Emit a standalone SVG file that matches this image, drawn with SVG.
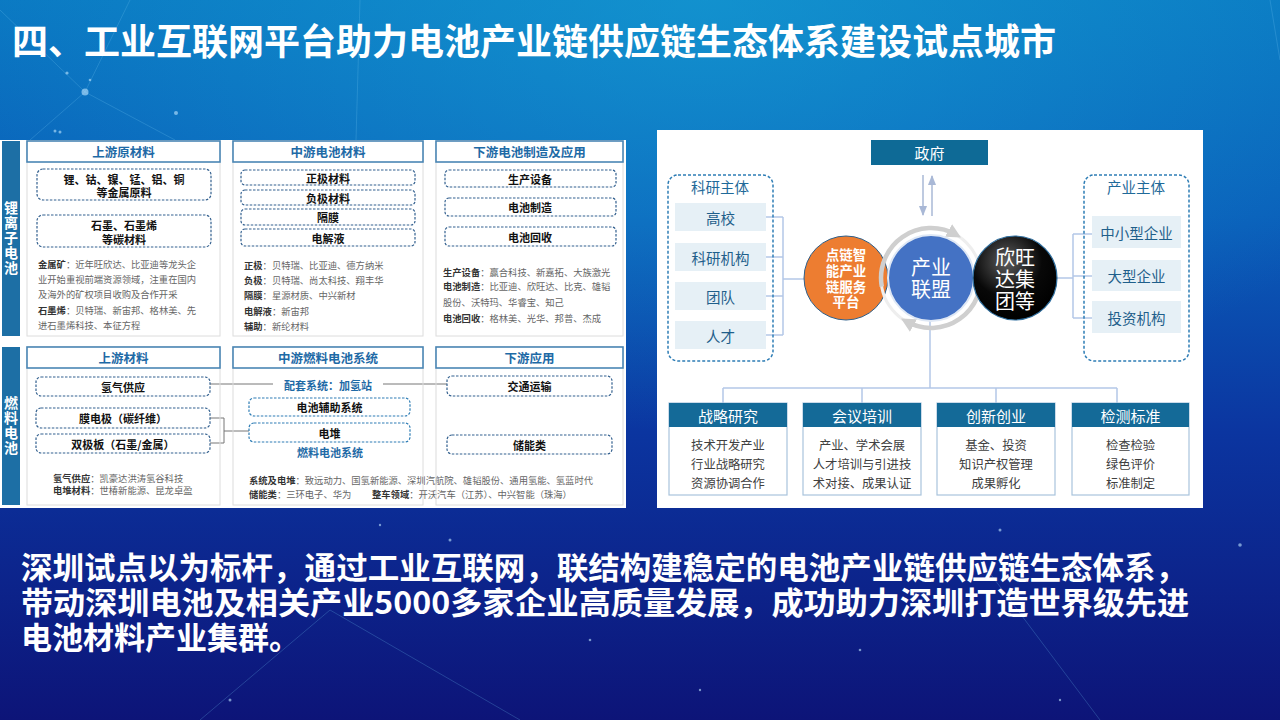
<svg xmlns="http://www.w3.org/2000/svg" width="1280" height="720" viewBox="0 0 1280 720">
<defs>
<linearGradient id="bg" x1="0" y1="0" x2="0" y2="1">
<stop offset="0" stop-color="#0a78c2"/>
<stop offset="0.3" stop-color="#0a5fba"/>
<stop offset="0.6" stop-color="#0b35a0"/>
<stop offset="1" stop-color="#0d1478"/>
</linearGradient>
<radialGradient id="glow" cx="0.55" cy="0" r="0.6">
<stop offset="0" stop-color="#19a6d8" stop-opacity="0.55"/>
<stop offset="1" stop-color="#19a6d8" stop-opacity="0"/>
</radialGradient>
<radialGradient id="blk" cx="0.4" cy="0.3" r="0.7">
<stop offset="0" stop-color="#5c5c5c"/>
<stop offset="0.6" stop-color="#080808"/>
<stop offset="1" stop-color="#000"/>
</radialGradient>
<marker id="arr" viewBox="0 0 10 10" refX="9" refY="5" markerWidth="7" markerHeight="7" orient="auto">
<path d="M0,1 L10,5 L0,9 Z" fill="#a9b8d6"/>
</marker>
<marker id="ring" viewBox="0 0 10 10" refX="6" refY="5" markerWidth="3.2" markerHeight="3.2" orient="auto">
<path d="M0,0 L10,5 L0,10 Z" fill="#cfcfcf"/>
</marker>
<style>
text{font-family:"Noto Sans CJK SC","Noto Sans",sans-serif}
.title{font-size:36px;font-weight:700;fill:#fff}
.body{font-size:31px;font-weight:700;fill:#fff}
.bar{fill:#1d6fa5}
.vtxt{font-size:14px;font-weight:700;fill:#fff;text-anchor:middle;writing-mode:vertical-rl;letter-spacing:1px}
.col{fill:none;stroke:#dcdcdc;stroke-width:1}
.hbox{fill:#fff;stroke:#4a86b4;stroke-width:1.6}
.htxt{font-size:12.5px;font-weight:700;fill:#1e6aa6;text-anchor:middle;dominant-baseline:central}
.dash{fill:#fff;stroke:#33608f;stroke-width:1.2;stroke-dasharray:2.5 1.5}
.dtxt{font-size:11px;font-weight:700;fill:#111;text-anchor:middle;dominant-baseline:central}
.btxt{font-size:11px;font-weight:700;fill:#1e6aa6;text-anchor:middle;dominant-baseline:central}
.desc{font-size:9.3px;fill:#666;dominant-baseline:central}
.lbl{font-weight:700;fill:#333}
.ln{fill:none;stroke:#777;stroke-width:1}
.rl{fill:none;stroke:#b4c7e7;stroke-width:1.5}
.grp{fill:none;stroke:#2e7db5;stroke-width:1.5;stroke-dasharray:3 2}
.gtitle{font-size:14.5px;fill:#1f6a99;text-anchor:middle;dominant-baseline:central}
.item{fill:#e6f0f6}
.itxt{font-size:14.5px;fill:#1f5f8b;text-anchor:middle;dominant-baseline:central}
.chead{fill:#146a98}
.cbody{fill:#fff;stroke:#a9c4dc;stroke-width:1.2}
.chtxt{font-size:15px;fill:#fff;text-anchor:middle;dominant-baseline:central}
.cbtxt{font-size:12.3px;fill:#404040;text-anchor:middle;dominant-baseline:central}
.ctxt{font-size:20px;fill:#fff;text-anchor:middle;dominant-baseline:central}
.otxt{font-size:13.5px;font-weight:700;fill:#fff;text-anchor:middle;dominant-baseline:central}
</style>
</defs>

<g id="background">
<rect width="1280" height="720" fill="url(#bg)"/>
<rect width="1280" height="720" fill="url(#glow)"/>
<g stroke="#6fc3ee" stroke-opacity="0.25" stroke-width="1" fill="none">
<path d="M0,10 L85,92 L130,0"/>
<path d="M30,140 L85,92 L175,140"/>
<path d="M360,0 L356,140"/>
<path d="M1270,0 L1280,60"/>
<path d="M980,560 L1100,720"/>
<path d="M200,720 L330,610 L520,720"/>
</g>
<g fill="#bfe6ff" fill-opacity="0.6">
<circle cx="85" cy="92" r="3.5"/>
<circle cx="67" cy="73" r="1.6"/>
<circle cx="90" cy="80" r="1.3"/>
<circle cx="176" cy="113" r="2"/>
<circle cx="55" cy="131" r="1.5"/>
<circle cx="60" cy="132" r="1.5"/>
<circle cx="450" cy="540" r="1.5"/>
<circle cx="380" cy="525" r="1.2"/>
<circle cx="1000" cy="530" r="1.5"/>
<circle cx="1240" cy="545" r="1.8"/>
<circle cx="1180" cy="595" r="1.3"/>
<circle cx="590" cy="640" r="1.3"/>
<circle cx="860" cy="650" r="1.3"/>
<circle cx="230" cy="700" r="1.5"/>
<circle cx="1060" cy="700" r="1.2"/>
<circle cx="700" cy="690" r="1.2"/>
</g>
</g>

<g id="title">
<text class="title" x="12" y="55">四、工业互联网平台助力电池产业链供应链生态体系建设试点城市</text>
</g>

<g id="left-panel">
<rect x="0" y="140" width="626" height="368" fill="#fff"/>

<g id="li-ion">
<rect class="bar" x="2" y="141" width="18" height="195"/>
<text class="vtxt" x="11" y="238">锂离子电池</text>

<g id="li-up">
<rect class="col" x="27" y="141" width="193" height="195"/>
<rect class="hbox" x="27" y="141" width="193" height="21"/>
<text class="htxt" x="123.5" y="151.5">上游原材料</text>
<rect class="dash" x="37" y="169" width="174" height="31" rx="6"/>
<text class="dtxt"><tspan x="124" y="178.5">锂、钴、镍、锰、铝、铜</tspan><tspan x="124" y="192">等金属原料</tspan></text>
<rect class="dash" x="37" y="215" width="174" height="32" rx="6"/>
<text class="dtxt"><tspan x="124" y="225">石墨、石墨烯</tspan><tspan x="124" y="239">等碳材料</tspan></text>
<text class="desc"><tspan x="38" y="264"><tspan class="lbl">金属矿</tspan>：近年旺欣达、比亚迪等龙头企</tspan><tspan x="38" y="279">业开始重视前端资源领域，注重在国内</tspan><tspan x="38" y="294">及海外的矿权项目收购及合作开采</tspan><tspan x="38" y="310"><tspan class="lbl">石墨烯</tspan>：贝特瑞、新宙邦、格林美、先</tspan><tspan x="38" y="325">进石墨烯科技、本征方程</tspan></text>
</g>

<g id="li-mid">
<rect class="col" x="233" y="141" width="190" height="195"/>
<rect class="hbox" x="233" y="141" width="190" height="21"/>
<text class="htxt" x="328" y="151.5">中游电池材料</text>
<rect class="dash" x="241" y="170" width="174" height="15" rx="4"/>
<text class="dtxt" x="328" y="177.5">正极材料</text>
<rect class="dash" x="241" y="190" width="174" height="15" rx="4"/>
<text class="dtxt" x="328" y="197.5">负极材料</text>
<rect class="dash" x="241" y="209" width="174" height="16" rx="4"/>
<text class="dtxt" x="328" y="217">隔膜</text>
<rect class="dash" x="241" y="229" width="174" height="17" rx="4"/>
<text class="dtxt" x="328" y="237.5">电解液</text>
<text class="desc"><tspan x="244" y="265"><tspan class="lbl">正极</tspan>：贝特瑞、比亚迪、德方纳米</tspan><tspan x="244" y="280"><tspan class="lbl">负极</tspan>：贝特瑞、尚太科技、翔丰华</tspan><tspan x="244" y="295"><tspan class="lbl">隔膜</tspan>：星源材质、中兴新材</tspan><tspan x="244" y="311"><tspan class="lbl">电解液</tspan>：新宙邦</tspan><tspan x="244" y="326"><tspan class="lbl">辅助</tspan>：新纶材料</tspan></text>
</g>

<g id="li-down">
<rect class="col" x="436" y="141" width="187" height="195"/>
<rect class="hbox" x="436" y="141" width="187" height="21"/>
<text class="htxt" x="529.5" y="151.5">下游电池制造及应用</text>
<rect class="dash" x="445" y="170" width="171" height="17" rx="4"/>
<text class="dtxt" x="530" y="178.5">生产设备</text>
<rect class="dash" x="445" y="198" width="171" height="18" rx="4"/>
<text class="dtxt" x="530" y="207">电池制造</text>
<rect class="dash" x="445" y="227" width="171" height="19" rx="4"/>
<text class="dtxt" x="530" y="236.5">电池回收</text>
<text class="desc"><tspan x="443" y="272"><tspan class="lbl">生产设备</tspan>：赢合科技、新嘉拓、大族激光</tspan><tspan x="443" y="286"><tspan class="lbl">电池制造</tspan>：比亚迪、欣旺达、比克、雄韬</tspan><tspan x="443" y="302">股份、沃特玛、华睿宝、知己</tspan><tspan x="443" y="318"><tspan class="lbl">电池回收</tspan>：格林美、光华、邦普、杰成</tspan></text>
</g>
</g>

<g id="fuel-cell">
<rect class="bar" x="2" y="347" width="18" height="158"/>
<text class="vtxt" x="11" y="426">燃料电池</text>

<g id="fc-lines">
<path class="ln" d="M210,384 H273"/>
<path class="ln" d="M383,384 H447"/>
<path class="ln" d="M210,418 H224 V443 H210 M224,431 H249"/>
</g>

<g id="fc-up">
<rect class="col" x="27" y="347" width="193" height="158"/>
<rect class="hbox" x="27" y="347" width="193" height="21"/>
<text class="htxt" x="123.5" y="357.5">上游材料</text>
<rect class="dash" x="36" y="377" width="174" height="19" rx="5"/>
<text class="dtxt" x="123" y="386.5">氢气供应</text>
<rect class="dash" x="36" y="408" width="174" height="20" rx="5"/>
<text class="dtxt" x="123" y="418">膜电极（碳纤维）</text>
<rect class="dash" x="36" y="434" width="174" height="19" rx="5"/>
<text class="dtxt" x="123" y="443.5">双极板（石墨/金属）</text>
<text class="desc"><tspan x="53" y="478"><tspan class="lbl">氢气供应</tspan>：凯豪达洪涛氢谷科技</tspan><tspan x="53" y="490"><tspan class="lbl">电堆材料</tspan>：世椿新能源、昆龙卓盈</tspan></text>
</g>

<g id="fc-mid">
<rect class="col" x="233" y="347" width="190" height="158"/>
<rect class="hbox" x="233" y="347" width="190" height="21"/>
<text class="htxt" x="328" y="357.5">中游燃料电池系统</text>
<text class="btxt" x="328" y="385">配套系统：加氢站</text>
<rect class="dash" x="249" y="398" width="161" height="18" rx="5" style="stroke:#2e7db5"/>
<text class="dtxt" x="329.5" y="407">电池辅助系统</text>
<rect class="dash" x="249" y="423" width="161" height="19" rx="5" style="stroke:#2e7db5"/>
<text class="dtxt" x="329.5" y="432.5">电堆</text>
<text class="btxt" x="330" y="452">燃料电池系统</text>
<text class="desc"><tspan x="249" y="480"><tspan class="lbl">系统及电堆</tspan>：致远动力、国氢新能源、深圳汽航院、雄韬股份、通用氢能、氢蓝时代</tspan><tspan x="249" y="494"><tspan class="lbl">储能类</tspan>：三环电子、华为</tspan><tspan x="372" y="494"><tspan class="lbl">整车领域</tspan>：开沃汽车（江苏）、中兴智能（珠海）</tspan></text>
</g>

<g id="fc-down">
<rect class="col" x="436" y="347" width="187" height="158"/>
<rect class="hbox" x="436" y="347" width="187" height="21"/>
<text class="htxt" x="529.5" y="357.5">下游应用</text>
<rect class="dash" x="447" y="376" width="165" height="20" rx="5"/>
<text class="dtxt" x="529.5" y="386">交通运输</text>
<rect class="dash" x="447" y="435" width="165" height="19" rx="5"/>
<text class="dtxt" x="529.5" y="444.5">储能类</text>
</g>
</g>
</g>

<g id="right-panel">
<rect x="657" y="130" width="546" height="378" fill="#fff"/>

<g id="connectors">
<path class="rl" d="M766,217 H783 M766,257 H783 M766,296 H783 M766,335 H783 M783,217 V335 M783,279 H805"/>
<path class="rl" d="M1057,278 H1073 M1073,234 V318 M1073,234 H1092 M1073,276 H1092 M1073,318 H1092"/>
<path class="rl" d="M930,320 V388 M723,388 H1117 M723,388 V403 M862,388 V403 M996,388 V403 M1117,388 V403"/>
<path d="M923,175 V215" stroke="#a9b8d6" stroke-width="1.5" marker-end="url(#arr)"/>
<path d="M932,216 V176" stroke="#a9b8d6" stroke-width="1.5" marker-end="url(#arr)"/>
</g>

<g id="gov">
<rect x="871" y="140" width="117" height="25" fill="#0e6a96"/>
<text class="chtxt" x="929.5" y="152.5">政府</text>
</g>

<g id="research">
<rect class="grp" x="668" y="175" width="105" height="186" rx="10"/>
<text class="gtitle" x="720" y="186">科研主体</text>
<rect class="item" x="675" y="203" width="91" height="28"/>
<text class="itxt" x="720.5" y="217">高校</text>
<rect class="item" x="675" y="243" width="91" height="28"/>
<text class="itxt" x="720.5" y="257">科研机构</text>
<rect class="item" x="675" y="282" width="91" height="28"/>
<text class="itxt" x="720.5" y="296">团队</text>
<rect class="item" x="675" y="321" width="91" height="28"/>
<text class="itxt" x="720.5" y="335">人才</text>
</g>

<g id="industry">
<rect class="grp" x="1084" y="175" width="105" height="186" rx="10"/>
<text class="gtitle" x="1136" y="186">产业主体</text>
<rect class="item" x="1092" y="216" width="89" height="32"/>
<text class="itxt" x="1136.5" y="232">中小型企业</text>
<rect class="item" x="1092" y="260" width="89" height="31"/>
<text class="itxt" x="1136.5" y="275">大型企业</text>
<rect class="item" x="1092" y="301" width="89" height="32"/>
<text class="itxt" x="1136.5" y="317">投资机构</text>
</g>

<g id="platform">
<circle cx="846" cy="278" r="42" fill="#ed7d31" stroke="#2e5f8a" stroke-width="1"/>
<text class="otxt"><tspan x="846" y="254">点链智</tspan><tspan x="846" y="270">能产业</tspan><tspan x="846" y="285.5">链服务</tspan><tspan x="846" y="301">平台</tspan></text>
</g>

<g id="alliance">
<circle cx="931" cy="278" r="50" fill="none" stroke="#eeeeee" stroke-width="3"/>
<path d="M881.8,286.7 A50,50 0 0 1 956,234.7" fill="none" stroke="#cfcfcf" stroke-width="4.5" marker-end="url(#ring)"/>
<path d="M980.2,269.3 A50,50 0 0 1 906,321.3" fill="none" stroke="#cfcfcf" stroke-width="4.5" marker-end="url(#ring)"/>
<circle cx="931" cy="278" r="43" fill="#4472c4" stroke="#dfe8f5" stroke-width="2"/>
<text class="ctxt"><tspan x="931" y="266">产业</tspan><tspan x="931" y="288">联盟</tspan></text>
</g>

<g id="xwd">
<circle cx="1015" cy="278" r="42" fill="url(#blk)" stroke="#2f6f9f" stroke-width="1.2"/>
<text class="ctxt"><tspan x="1015" y="256">欣旺</tspan><tspan x="1015" y="278">达集</tspan><tspan x="1015" y="300">团等</tspan></text>
</g>

<g id="strategy">
<rect class="cbody" x="669" y="403" width="118" height="92"/>
<rect class="chead" x="669" y="403" width="118" height="24"/>
<text class="chtxt" x="728" y="415">战略研究</text>
<text class="cbtxt"><tspan x="728" y="445">技术开发产业</tspan><tspan x="728" y="464">行业战略研究</tspan><tspan x="728" y="483">资源协调合作</tspan></text>
</g>
<g id="meeting">
<rect class="cbody" x="803" y="403" width="118" height="92"/>
<rect class="chead" x="803" y="403" width="118" height="24"/>
<text class="chtxt" x="862" y="415">会议培训</text>
<text class="cbtxt"><tspan x="862" y="445">产业、学术会展</tspan><tspan x="862" y="464">人才培训与引进技</tspan><tspan x="862" y="483">术对接、成果认证</tspan></text>
</g>
<g id="innovation">
<rect class="cbody" x="937" y="403" width="118" height="92"/>
<rect class="chead" x="937" y="403" width="118" height="24"/>
<text class="chtxt" x="996" y="415">创新创业</text>
<text class="cbtxt"><tspan x="996" y="445">基金、投资</tspan><tspan x="996" y="464">知识产权管理</tspan><tspan x="996" y="483">成果孵化</tspan></text>
</g>
<g id="testing">
<rect class="cbody" x="1072" y="403" width="117" height="92"/>
<rect class="chead" x="1072" y="403" width="117" height="24"/>
<text class="chtxt" x="1130.5" y="415">检测标准</text>
<text class="cbtxt"><tspan x="1130.5" y="445">检查检验</tspan><tspan x="1130.5" y="464">绿色评价</tspan><tspan x="1130.5" y="483">标准制定</tspan></text>
</g>
</g>

<g id="summary">
<text class="body"><tspan x="21" y="579" textLength="1166" lengthAdjust="spacingAndGlyphs">深圳试点以为标杆，通过工业互联网，联结构建稳定的电池产业链供应链生态体系，</tspan><tspan x="21" y="614" textLength="1168" lengthAdjust="spacingAndGlyphs">带动深圳电池及相关产业5000多家企业高质量发展，成功助力深圳打造世界级先进</tspan><tspan x="21" y="649">电池材料产业集群。</tspan></text>
</g>
</svg>
